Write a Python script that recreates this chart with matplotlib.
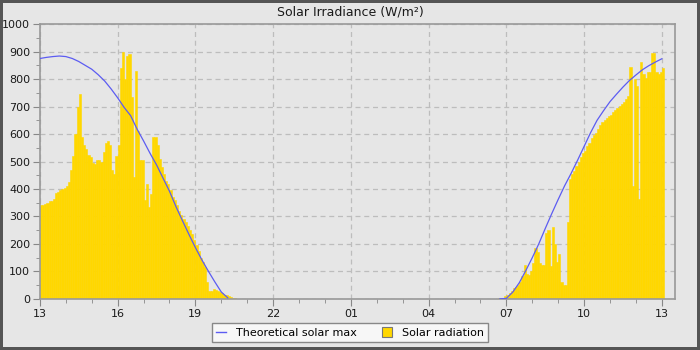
import matplotlib
matplotlib.use('Agg')
import matplotlib.pyplot as plt
from matplotlib.lines import Line2D
from matplotlib.patches import Patch
from matplotlib.ticker import MultipleLocator

# 5-minute solar radiation readings (W/m2)
# afternoon: from 13:00
rad_pm = [340, 340, 345, 350, 355, 355, 365, 385, 390, 395, 400, 405,
          410, 425, 470, 520, 600, 700, 745, 590, 560, 545, 525, 515,
          495, 490, 505, 505, 500, 535, 566, 575, 560, 470, 455, 520,
          560, 840, 900, 800, 885, 890, 735, 445, 830, 610, 505, 505,
          360, 420, 335, 380, 590, 590, 560, 510, 480, 455, 430, 420,
          395, 370, 360, 342, 320, 305, 290, 280, 265, 250, 235, 215,
          196, 175, 150, 135, 115, 60, 30, 30, 36, 32, 28, 26,
          20, 15, 13, 10, 7, 4, 2, 1]
# morning: from 06:35
rad_am = [1, 2, 3, 5, 10, 15, 22, 30, 38, 45, 50, 60,
          85, 125, 90, 88, 100, 130, 185, 170, 130, 122, 125, 240,
          250, 120, 260, 200, 135, 165, 60, 50, 50, 280, 435, 455,
          465, 485, 500, 515, 530, 540, 555, 568, 585, 595, 605, 620,
          632, 645, 652, 660, 665, 670, 680, 688, 695, 703, 710, 718,
          728, 740, 845, 410, 800, 775, 365, 863, 820, 805, 825, 827,
          895, 896, 827, 820, 825, 840]

# theoretical max, every 15 min
theo_pm = [875, 879, 882, 884, 882, 875, 864, 850, 836, 816, 793, 764,
           732, 697, 667, 618, 575, 530, 488, 440, 392, 336, 285, 235,
           187, 142, 101, 62, 25, 4]          # 13:00 - 20:15
theo_am = [0, 2, 25, 59, 103, 150, 200, 256, 310, 362, 412, 457,
           505, 555, 605, 650, 685, 718, 745, 771, 795, 815, 834, 849,
           862, 874]                          # 06:45 - 13:00

hour_labels = ['13', '16', '19', '22', '01', '04', '07', '10', '13']

step = 1 / 12
pm_start = 0.0
am_start = 17 + 35 / 60
theo_am_start = 17.75

fig = plt.figure(figsize=(7, 3.5), dpi=100, facecolor='#e6e6e6',
                 edgecolor='#555555', linewidth=3)
ax = fig.add_axes([0.057, 0.146, 0.907, 0.785])
ax.set_facecolor('#e6e6e6')

x_pm = [pm_start + i * step for i in range(len(rad_pm))]
x_am = [am_start + i * step for i in range(len(rad_am))]
gold = '#ffd700'
ax.bar(x_pm, rad_pm, width=step, align='edge', color=gold,
       edgecolor=gold, linewidth=0.4, zorder=2)
ax.bar(x_am, rad_am, width=step, align='edge', color=gold,
       edgecolor=gold, linewidth=0.4, zorder=2)

blue = '#5c5cf2'
ax.plot([pm_start + i * 0.25 for i in range(len(theo_pm))], theo_pm,
        color=blue, lw=0.9, zorder=3)
ax.plot([theo_am_start + i * 0.25 for i in range(len(theo_am))], theo_am,
        color=blue, lw=0.9, zorder=3)

ax.set_xlim(0, 24.5)
ax.set_ylim(0, 1000)
ax.set_xticks([i * 3 for i in range(len(hour_labels))])
ax.set_xticklabels(hour_labels)
ax.xaxis.set_minor_locator(MultipleLocator(1))
ax.yaxis.set_major_locator(MultipleLocator(100))
ax.yaxis.set_minor_locator(MultipleLocator(50))
ax.tick_params(which='major', length=5, color='#888888', labelsize=8,
               labelcolor='#1a1a1a', pad=2)
ax.tick_params(which='minor', length=3, color='#888888')
for s in ax.spines.values():
    s.set_color('#999999')
    s.set_linewidth(1.2)

ax.set_axisbelow(True)
ax.grid(True, which='major', color='#bdbdbd', linestyle=(0, (4, 3)), lw=0.9)

fig.text(0.5, 1 - 12 / 350, 'Solar Irradiance (W/m²)', ha='center',
         va='center', fontsize=9, color='#1a1a1a')

handles = [Line2D([], [], color=blue, lw=1),
           Patch(facecolor=gold, edgecolor='#777777', linewidth=0.8)]
leg = fig.legend(handles, ['Theoretical solar max', 'Solar radiation'],
                 loc='lower center', bbox_to_anchor=(0.5, 0.008), ncol=2,
                 fancybox=False, edgecolor='#888888', facecolor='#f7f7f7',
                 framealpha=1, fontsize=8, handlelength=0.9, handleheight=0.9,
                 columnspacing=2.2, borderpad=0.35, handletextpad=0.9)
leg.get_frame().set_linewidth(1)

fig.savefig('out.png', dpi=100, facecolor=fig.get_facecolor(),
            edgecolor=fig.get_edgecolor())
